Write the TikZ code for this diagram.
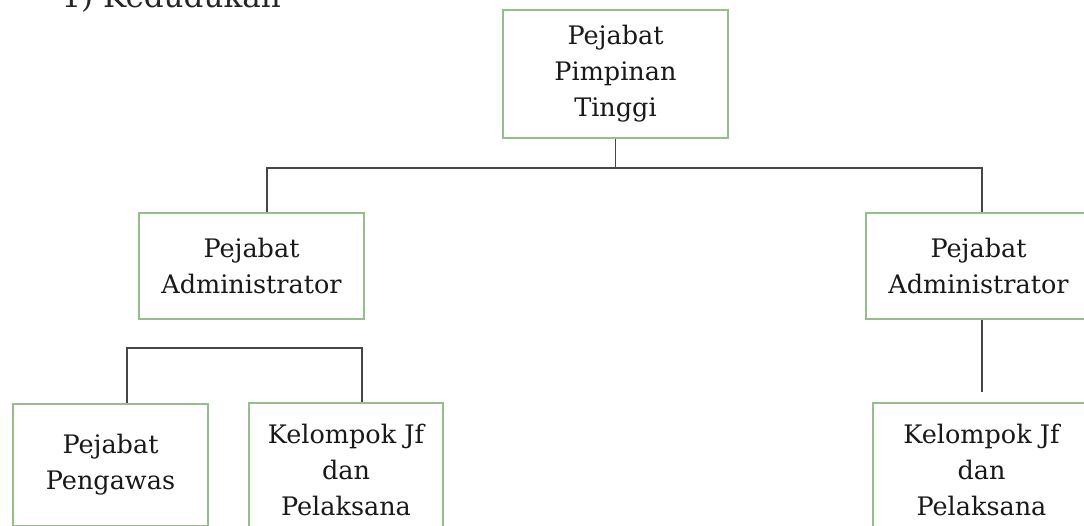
\documentclass[tikz,border=0pt]{standalone}
\usepackage{fontspec}
\setmainfont{DejaVu Serif}
\usepackage{tikz}
\usetikzlibrary{positioning}

\definecolor{boxgreen}{RGB}{150,190,140}
\definecolor{linegray}{RGB}{70,70,70}

\begin{document}
\begin{tikzpicture}[
  x=1pt, y=-1pt,
  unit/.style={draw=boxgreen, line width=1.5pt, align=center, inner sep=0pt,
    font=\fontsize{25.5}{36}\selectfont, text=black!90},
  link/.style={draw=linegray, line width=1.2pt}
]
\useasboundingbox[fill=white] (0,0) rectangle (1084,525);
% heading, cut off by the page edge
\node[anchor=base west, font=\fontsize{31}{36}\selectfont, text=black!85] (head) at (58,7) {1)~Kedudukan};

\node[unit, minimum width=225pt, minimum height=128pt] (top) at (615.5,74) {Pejabat\\Pimpinan\\Tinggi};
\node[unit, minimum width=225pt, minimum height=106pt] (admL) at (251.5,266) {Pejabat\\Administrator};
\node[unit, minimum width=225pt, minimum height=106pt] (admR) at (978.5,266) {Pejabat\\Administrator};
\node[unit, minimum width=195pt, minimum height=122pt] (pengawas) at (110.5,465) {Pejabat\\Pengawas};
\node[unit, minimum width=194pt, minimum height=134pt] (kelL) at (346,470) {Kelompok Jf\\dan\\Pelaksana};
\node[unit, minimum width=217pt, minimum height=134pt] (kelR) at (981.5,470) {Kelompok Jf\\dan\\Pelaksana};

\coordinate (busL) at (267,168);
\coordinate (busR) at (982,168);
\coordinate (subL) at (127,348);
\coordinate (subR) at (362,348);
\coordinate (endR) at (982,392);

\draw[link] (top.south) -- (top.south |- busL);
\draw[link] (busL |- admL.north) -- (busL) -- (busR) -- (busR |- admR.north);
\draw[link] (subL |- pengawas.north) -- (subL) -- (subR) -- (subR |- kelL.north);
\draw[link] (admR.south -| endR) -- (endR);
\end{tikzpicture}
\end{document}
